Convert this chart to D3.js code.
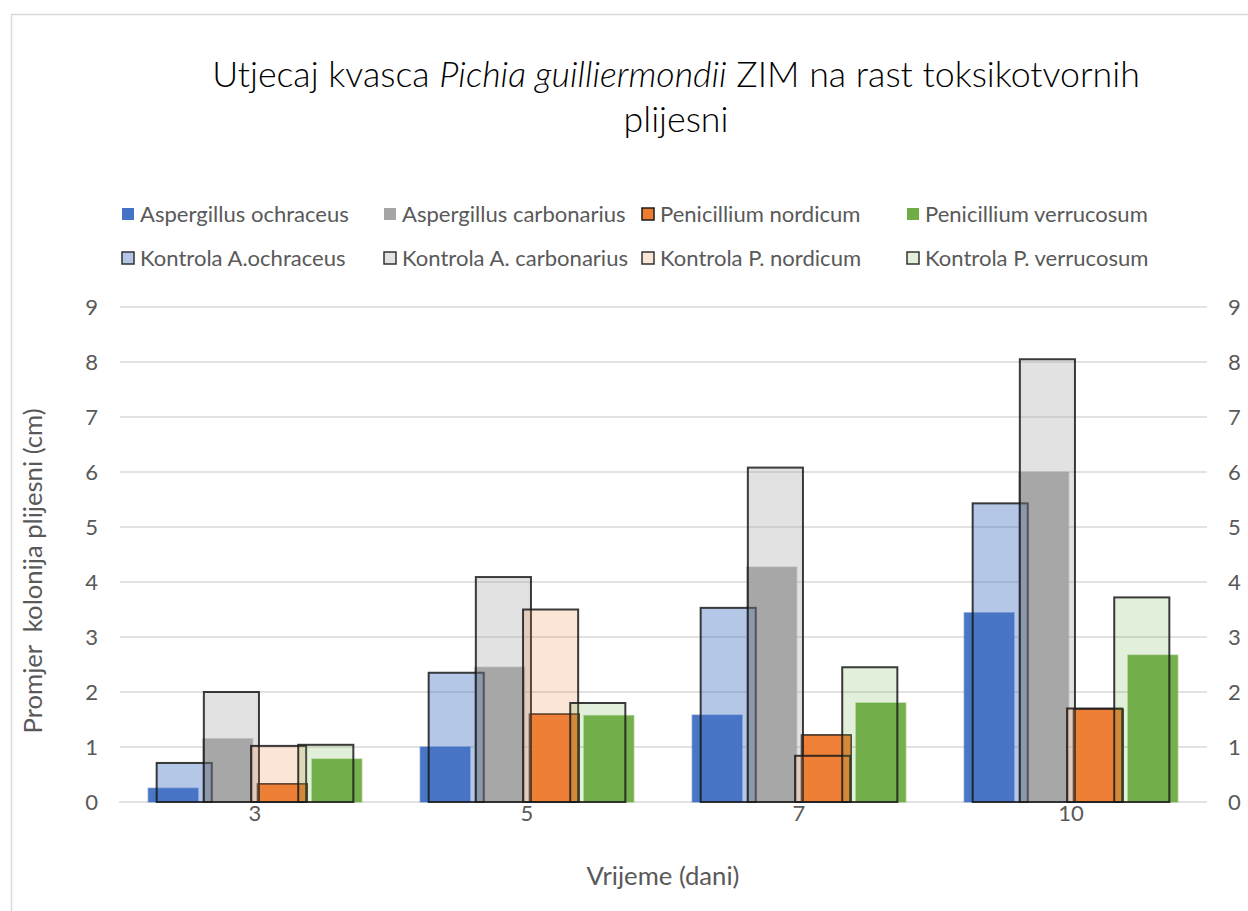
<!DOCTYPE html>
<html>
<head>
<meta charset="utf-8">
<script src="https://cdn.jsdelivr.net/npm/d3@7"></script>
<style>
  html, body { margin: 0; padding: 0; background: #fff; }
  svg { display: block; }
</style>
</head>
<body>
<svg id="chart" width="1248" height="911"></svg>
<script>
// ---------- DATA ----------
const categories = ["3", "5", "7", "10"];
const primarySeries = ["Aspergillus ochraceus", "Aspergillus carbonarius", "Penicillium nordicum", "Penicillium verrucosum"];
const controlSeries = ["Kontrola A.ochraceus", "Kontrola A. carbonarius", "Kontrola P. nordicum", "Kontrola P. verrucosum"];
const aOchraceus   = [0.25, 1.0, 1.58, 3.44];
const aCarbonarius = [1.15, 2.45, 4.27, 6.0];
const pNordicum    = [0.33, 1.6, 1.22, 1.69];
const pVerrucosum  = [0.78, 1.57, 1.8, 2.67];
const kAOchraceus   = [0.71, 2.35, 3.53, 5.43];
const kACarbonarius = [2.0, 4.09, 6.08, 8.05];
const kPNordicum    = [1.02, 3.5, 0.84, 1.7];
const kPVerrucosum  = [1.04, 1.8, 2.45, 3.72];
const yTicks = [0, 1, 2, 3, 4, 5, 6, 7, 8, 9];
const titleParts = [
  { text: "Utjecaj kvasca ", italic: false },
  { text: "Pichia guilliermondii", italic: true },
  { text: " ZIM na rast toksikotvornih", italic: false }
];
const titleLine2 = "plijesni";
const xTitle = "Vrijeme (dani)";
const yTitle = "Promjer  kolonija plijesni (cm)";

// ---------- STYLE ----------
const colors = ["#4472C4", "#A5A5A5", "#ED7D31", "#70AD47"];
const controlOpacity = [0.4, 0.32, 0.2, 0.2];
const FONT = "Lato, 'Open Sans', sans-serif";
const textColor = "#595959";

const primaryData = [aOchraceus, aCarbonarius, pNordicum, pVerrucosum];
const controlData = [kAOchraceus, kACarbonarius, kPNordicum, kPVerrucosum];

const svg = d3.select("#chart");

// chart border
svg.append("rect").attr("x", 11.5).attr("y", 14.5).attr("width", 1260).attr("height", 920)
  .attr("fill", "#fff").attr("stroke", "#D9D9D9").attr("stroke-width", 1.5);

// helper: fit font size to target width
function fitSize(text, target, base, style, weight) {
  const t = svg.append("text").attr("font-family", FONT).attr("font-size", base)
    .attr("font-style", style || "normal").attr("font-weight", weight || 400)
    .style("white-space", "pre").text(text);
  const w = t.node().getComputedTextLength();
  t.remove();
  return base * target / w;
}
const labelSize = fitSize("Aspergillus ochraceus", 209, 20);
const axisTitleSize = fitSize("Vrijeme (dani)", 153, 20);

// scales
const plot = { left: 119, right: 1207, top: 307, bottom: 802 };
const x = d3.scaleBand().domain(categories).range([plot.left, plot.right]).padding(0);
const y = d3.scaleLinear().domain([0, 9]).range([plot.bottom, plot.top]);
const y2 = d3.scaleLinear().domain([0, 9]).range([plot.bottom, plot.top]);

// gridlines
svg.append("g").selectAll("line").data(yTicks.slice(1)).join("line")
  .attr("x1", plot.left + 1).attr("x2", plot.right)
  .attr("y1", d => y(d)).attr("y2", d => y(d))
  .attr("stroke", "#D9D9D9").attr("stroke-width", 1.5);

// axes
const leftAxis = svg.append("g").attr("transform", `translate(${plot.left},0)`)
  .call(d3.axisLeft(y).tickValues(yTicks).tickSize(0).tickPadding(21));
const rightAxis = svg.append("g").attr("transform", `translate(${plot.right},0)`)
  .call(d3.axisRight(y2).tickValues(yTicks).tickSize(0).tickPadding(21));
const bottomAxis = svg.append("g").attr("transform", `translate(0,${plot.bottom})`)
  .call(d3.axisBottom(x).tickSize(0).tickPadding(3));
[leftAxis, rightAxis, bottomAxis].forEach(g => {
  g.select(".domain").remove();
  g.selectAll("text").attr("font-family", FONT).attr("font-size", labelSize).attr("fill", textColor);
});
svg.append("line").attr("x1", plot.left).attr("x2", plot.right)
  .attr("y1", plot.bottom).attr("y2", plot.bottom).attr("stroke", "#D9D9D9").attr("stroke-width", 1.5);

// bar geometry (fractions of band width)
const bw = x.bandwidth();
const pW = bw * 0.183, pPitch = bw * 0.2006;
const cW = bw * 0.2026, cPitch = bw * 0.1735;

// primary bars
primaryData.forEach((vals, i) => {
  svg.append("g").selectAll("rect").data(vals).join("rect")
    .attr("x", (d, j) => x(categories[j]) + bw / 2 + (i - 1.5) * pPitch - pW / 2)
    .attr("y", d => y(d))
    .attr("width", pW)
    .attr("height", d => y(0) - y(d))
    .attr("fill", colors[i])
    .attr("fill-opacity", 0.97)
    .attr("stroke", i === 2 ? "#1a1a1a" : colors[i])
    .attr("stroke-opacity", i === 2 ? 0.9 : 0.45)
    .attr("stroke-width", 1.5);
});

// control bars (secondary axis, drawn on top)
controlData.forEach((vals, i) => {
  svg.append("g").selectAll("rect").data(vals).join("rect")
    .attr("x", (d, j) => x(categories[j]) + bw / 2 + (i - 1.5) * cPitch - cW / 2)
    .attr("y", d => y2(d))
    .attr("width", cW)
    .attr("height", d => y2(0) - y2(d))
    .attr("fill", colors[i])
    .attr("fill-opacity", controlOpacity[i])
    .attr("stroke", "#1a1a1a")
    .attr("stroke-opacity", 0.85)
    .attr("stroke-width", 2);
});

// title
const titleSize = (() => {
  const t = svg.append("text").attr("font-family", FONT).attr("font-size", 30).attr("font-weight", 300);
  titleParts.forEach(p => t.append("tspan").attr("font-style", p.italic ? "italic" : "normal").text(p.text));
  const w = t.node().getComputedTextLength();
  t.remove();
  return 30 * 928 / w;
})();
const t1 = svg.append("text").attr("x", 676).attr("y", 87).attr("text-anchor", "middle")
  .attr("font-family", FONT).attr("font-size", titleSize).attr("font-weight", 300).attr("fill", "#000");
titleParts.forEach(p => t1.append("tspan").attr("font-style", p.italic ? "italic" : "normal").text(p.text));
svg.append("text").attr("x", 676).attr("y", 132).attr("text-anchor", "middle")
  .attr("font-family", FONT).attr("font-size", titleSize).attr("font-weight", 300).attr("fill", "#000").text(titleLine2);

// legend
const legendCols = [121, 383, 641, 906];
const legendRows = [214, 258];
const legendItems = [];
primarySeries.forEach((s, i) => legendItems.push({ name: s, row: 0, col: i, fill: colors[i], op: 1, stroke: i === 2 ? "#1a1a1a" : "none" }));
controlSeries.forEach((s, i) => legendItems.push({ name: s, row: 1, col: i, fill: colors[i], op: controlOpacity[i], stroke: "#333" }));
const lg = svg.append("g").selectAll("g").data(legendItems).join("g")
  .attr("transform", d => `translate(${legendCols[d.col]},${legendRows[d.row]})`);
lg.append("rect").attr("x", 1).attr("y", -6).attr("width", 12).attr("height", 12)
  .attr("fill", d => d.fill).attr("fill-opacity", d => d.op)
  .attr("stroke", d => d.stroke).attr("stroke-width", 1.5);
lg.append("text").attr("x", 19).attr("y", 0).attr("dy", "0.35em")
  .attr("font-family", FONT).attr("font-size", labelSize).attr("fill", textColor)
  .text(d => d.name);

// axis titles
svg.append("text").attr("x", 663).attr("y", 876).attr("dy", "0.35em")
  .attr("text-anchor", "middle").attr("font-family", FONT).attr("font-size", axisTitleSize)
  .attr("fill", textColor).text(xTitle);
svg.append("text").attr("transform", `translate(33,571) rotate(-90)`).attr("dy", "0.35em")
  .attr("text-anchor", "middle").attr("font-family", FONT).attr("font-size", axisTitleSize)
  .attr("fill", textColor).style("white-space", "pre").text(yTitle);
</script>
</body>
</html>
